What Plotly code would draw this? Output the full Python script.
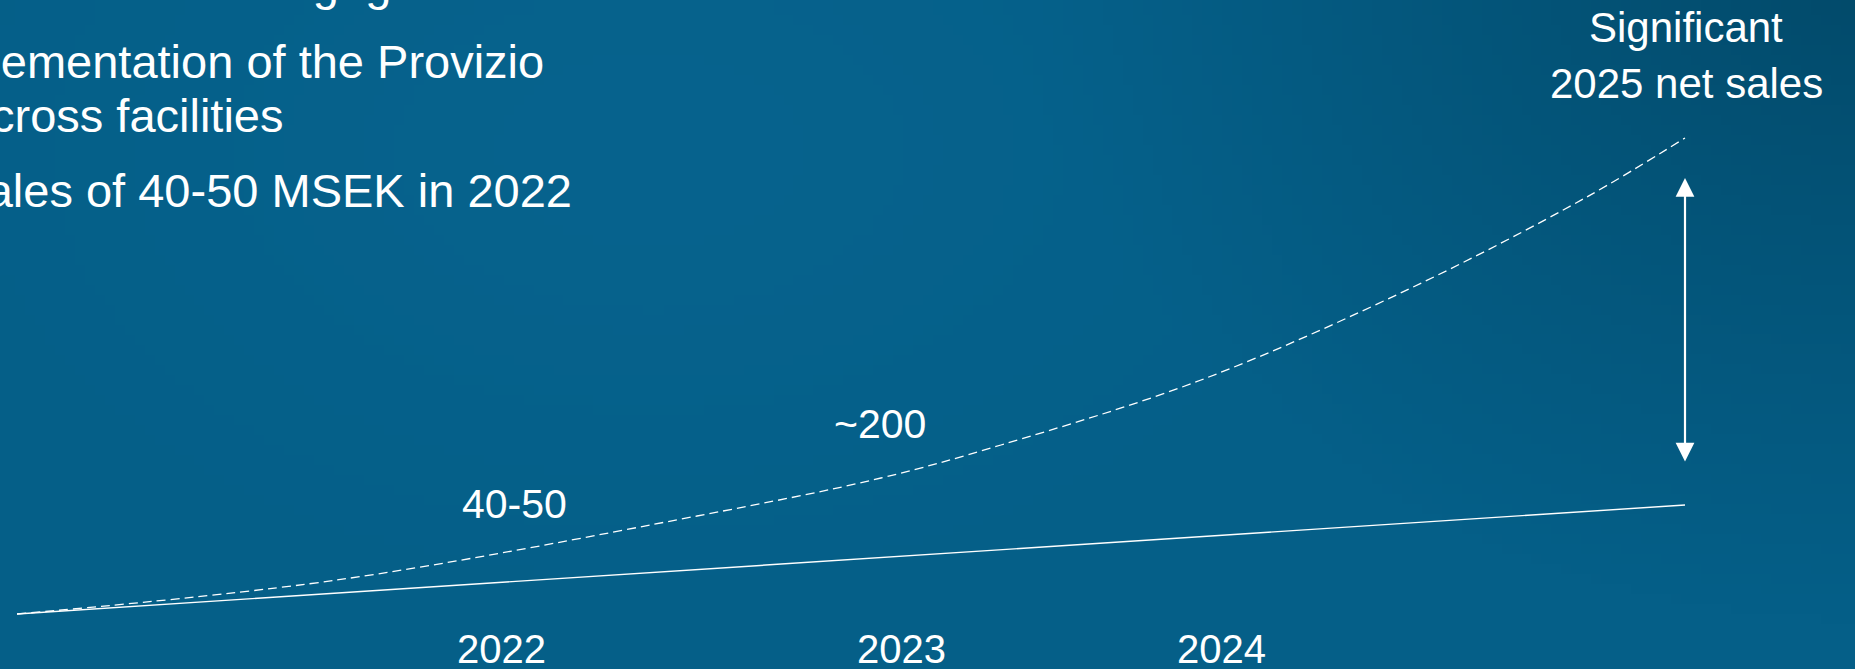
import base64
import struct
import zlib

import numpy as np
import plotly.graph_objects as go

# ---------------- data ----------------
# timeline position (years) and index value (schematic net-sales curve)
dashed_years = [2020.79, 2021.59, 2022.49, 2022.95, 2023.25, 2023.75, 2024.27, 2024.71, 2024.96]
dashed_values = [0, 34, 98, 136, 169, 234, 325, 416, 476]
solid_years = [2020.79, 2024.96]
solid_values = [0, 109]
year_labels = ["2022", "2023", "2024"]
value_labels = ["40-50", "~200"]
gap_arrow_values = [151, 436]   # bottom / top of the double arrow
end_label = ["Significant", "2025 net sales"]
text_lines = [
    "Broad OEM engagement",
    "Implementation of the Provizio",
    "platform across facilities",
    "Net sales of 40-50 MSEK in 2022",
]

# ---------------- layout helpers ----------------
W, H = 1855, 669
X0, XPX = 2022 - 501 / 400, 400.0       # x axis: 400 px per year, 2022 at px 501
Y0 = 614                                 # y value 0 at px 614, 1 unit = 1 px
xr = [X0, X0 + W / XPX]
yr = [Y0 - H, Y0]


def px2x(px):
    return X0 + px / XPX


def py2y(py):
    return Y0 - py


def pfx(px):
    return px / W


def pfy(py):
    return 1 - py / H


# ---------------- background gradient ----------------
def png_uri(arr):
    h, w, _ = arr.shape
    raw = b"".join(b"\x00" + arr[r].tobytes() for r in range(h))

    def chunk(tag, data):
        return (struct.pack(">I", len(data)) + tag + data
                + struct.pack(">I", zlib.crc32(tag + data) & 0xFFFFFFFF))

    png = (b"\x89PNG\r\n\x1a\n"
           + chunk(b"IHDR", struct.pack(">IIBBBBB", w, h, 8, 2, 0, 0, 0))
           + chunk(b"IDAT", zlib.compress(raw, 9))
           + chunk(b"IEND", b""))
    return "data:image/png;base64," + base64.b64encode(png).decode()


gw, gh = 186, 67
gx = (np.arange(gw) + 0.5) * (W / gw)
gy = (np.arange(gh) + 0.5) * (H / gh)
GX, GY = np.meshgrid(gx, gy)
dark = np.array([0x02, 0x47, 0x66], float)
light = np.array([0x05, 0x5f, 0x88], float)
bright = np.array([0x08, 0x66, 0x92], float)
d = np.sqrt((GX - 1900) ** 2 + (1.3 * (GY + 60)) ** 2)
f = np.clip(d / 880, 0, 1) ** 0.8
img = dark[None, None, :] * (1 - f[..., None]) + light[None, None, :] * f[..., None]
blob = np.exp(-(((GX - 650) / 520) ** 2 + ((GY - 150) / 330) ** 2))
img = img * (1 - 0.55 * blob[..., None]) + bright[None, None, :] * (0.55 * blob[..., None])
img = np.clip(img, 0, 255).astype(np.uint8)

FONT = "Liberation Sans, Arial, sans-serif"
WHITE = "#ffffff"

fig = go.Figure()
fig.add_trace(go.Scatter(
    x=solid_years, y=solid_values, mode="lines",
    line=dict(color=WHITE, width=1.4), hoverinfo="skip", showlegend=False))
fig.add_trace(go.Scatter(
    x=dashed_years, y=dashed_values, mode="lines",
    line=dict(color=WHITE, width=1.3, dash="9px,5px", shape="spline", smoothing=1.0),
    hoverinfo="skip", showlegend=False))

ann = []
# left-hand text lines (right edge px, middle py)
left_pos = [(524, -17), (546, 62), (286, 115), (574, 190)]
for t, (rx, my) in zip(text_lines, left_pos):
    ann.append(dict(text=t, xref="paper", yref="paper", x=pfx(rx), y=pfy(my),
                    xanchor="right", yanchor="middle", showarrow=False,
                    font=dict(family=FONT, size=47, color=WHITE)))
# year labels
year_px = [501, 901, 1221]
for t, cx in zip(year_labels, year_px):
    ann.append(dict(text=t, x=px2x(cx), y=py2y(649), xanchor="center", yanchor="middle",
                    showarrow=False, font=dict(family=FONT, size=40, color=WHITE)))
# value labels
val_pos = [(514, 504), (880, 424)]
for t, (cx, cy) in zip(value_labels, val_pos):
    ann.append(dict(text=t, x=px2x(cx), y=py2y(cy), xanchor="center", yanchor="middle",
                    showarrow=False, font=dict(family=FONT, size=41, color=WHITE)))
# end label
for t, cy in zip(end_label, [27, 83]):
    ann.append(dict(text=t, x=px2x(1686), y=py2y(cy), xanchor="center", yanchor="middle",
                    showarrow=False, font=dict(family=FONT, size=42, color=WHITE)))
# double arrow
ann.append(dict(text="", x=dashed_years[-1], y=gap_arrow_values[1],
                ax=dashed_years[-1], ay=gap_arrow_values[0], axref="x", ayref="y",
                showarrow=True, arrowhead=2, startarrowhead=2, arrowside="end+start",
                arrowwidth=2.2, arrowsize=1.7, startarrowsize=1.7, arrowcolor=WHITE))

fig.update_layout(
    width=W, height=H,
    margin=dict(l=0, r=0, t=0, b=0),
    paper_bgcolor="#045a81", plot_bgcolor="rgba(0,0,0,0)",
    xaxis=dict(range=xr, visible=False, fixedrange=True),
    yaxis=dict(range=yr, visible=False, fixedrange=True),
    annotations=ann,
    images=[dict(source=png_uri(img), xref="paper", yref="paper", x=0, y=1,
                 sizex=1, sizey=1, xanchor="left", yanchor="top",
                 sizing="stretch", layer="below")],
    showlegend=False,
)
fig.write_html("out.html", config={"displayModeBar": False},
               post_script="document.body.style.margin='0px';")
